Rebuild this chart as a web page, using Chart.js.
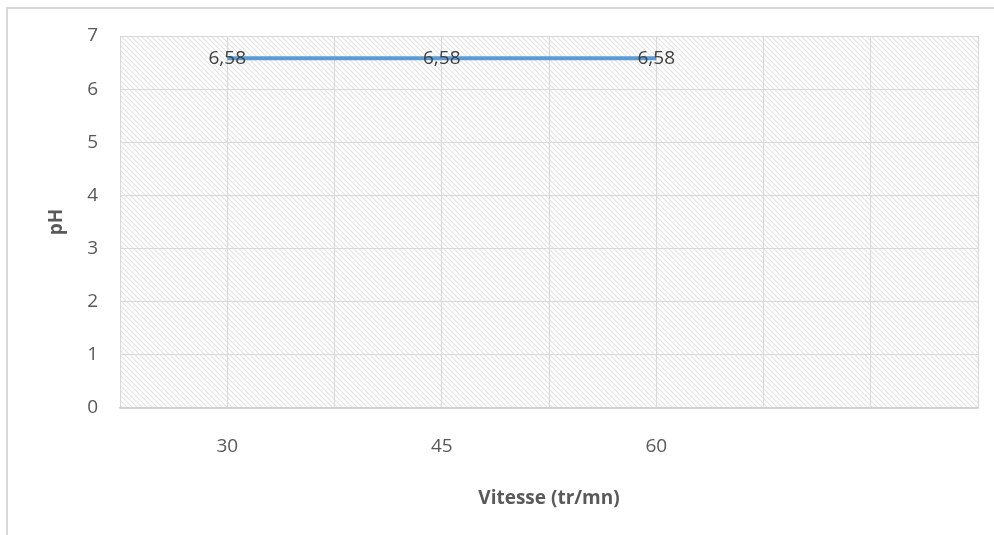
<!DOCTYPE html>
<html>
<head>
<meta charset="utf-8">
<script src="https://cdn.jsdelivr.net/npm/chart.js@4"></script>
<style>
  html, body { margin: 0; padding: 0; background: #fff; }
  #wrap { width: 994px; height: 535px; position: relative; }
</style>
</head>
<body>
<div id="wrap"><canvas id="graf" width="994" height="535"></canvas></div>
<script>
// données
var vitesses = [30, 45, 60]
var valeursPH = [6.58, 6.58, 6.58]
var ticksX = [30, 45, 60]
var ticksY = [0, 1, 2, 3, 4, 5, 6, 7]

var corTexto = "#595959"
var corGrade = "#d9d9d9"
var fonte = "'Open Sans', sans-serif"

// motif hachuré du fond (diagonales descendantes)
function criarMotivo(ctx) {
    var c = document.createElement("canvas")
    c.width = 5; c.height = 5
    var g = c.getContext("2d")
    g.fillStyle = "#ffffff"
    g.fillRect(0, 0, 5, 5)
    g.strokeStyle = "#e3e3e3"
    g.lineWidth = 1.2
    g.beginPath()
    g.moveTo(-1, -1); g.lineTo(6, 6)
    g.moveTo(-4, 1); g.lineTo(4, 9)
    g.moveTo(1, -4); g.lineTo(9, 4)
    g.stroke()
    return ctx.createPattern(c, "repeat")
}

var fundo = {
    id: "fundo",
    beforeDraw: function(chart) {
        var ctx = chart.ctx, a = chart.chartArea
        ctx.save()
        // cadre extérieur
        ctx.strokeStyle = "#d9d9d9"
        ctx.lineWidth = 2
        ctx.beginPath()
        ctx.moveTo(7, 535); ctx.lineTo(7, 8); ctx.lineTo(994, 8)
        ctx.stroke()
        ctx.fillStyle = criarMotivo(ctx)
        ctx.fillRect(a.left, a.top, a.right - a.left, a.bottom - a.top)
        ctx.restore()
    },
    afterDatasetsDraw: function(chart) {
        var ctx = chart.ctx
        var meta = chart.getDatasetMeta(0)
        ctx.save()
        ctx.font = "19px " + fonte
        ctx.fillStyle = "#404040"
        ctx.textAlign = "center"
        ctx.textBaseline = "middle"
        meta.data.forEach(function(pt, i) {
            ctx.fillText(valeursPH[i].toFixed(2).replace(".", ","), pt.x, pt.y)
        })
        ctx.restore()
    }
}

var pontos = vitesses.map(function(v, i) { return { x: v, y: valeursPH[i] } })

new Chart(document.getElementById("graf"), {
    type: "line",
    data: {
        datasets: [{
            data: pontos,
            borderColor: "#5b9bd5",
            borderWidth: 4,
            pointRadius: 0,
            tension: 0
        }]
    },
    options: {
        responsive: false,
        animation: false,
        devicePixelRatio: 1,
        layout: { padding: { left: 0, top: 36, right: 16, bottom: 0 } },
        plugins: { legend: { display: false }, tooltip: { enabled: false } },
        scales: {
            x: {
                type: "linear",
                min: 22.5, max: 82.5,
                afterFit: function(s) {
                    s.height = 127
                    s.paddingLeft = 0
                    s.paddingRight = 0
                },
                afterBuildTicks: function(s) {
                    var t = []
                    for (var v = 22.5; v <= 82.5; v += 7.5) t.push({ value: v })
                    s.ticks = t
                },
                ticks: {
                    padding: 27,
                    color: corTexto,
                    font: { size: 19, family: fonte },
                    autoSkip: false,
                    maxRotation: 0,
                    callback: function(v) { return ticksX.indexOf(v) >= 0 ? String(v) : "" }
                },
                grid: { color: corGrade, drawTicks: false },
                border: { color: "#d0d0d0", width: 1.5 },
                title: {
                    display: true,
                    text: "Vitesse (tr/mn)",
                    color: corTexto,
                    font: { size: 19, weight: "bold", family: fonte },
                    padding: { top: 0, bottom: 25 }
                }
            },
            y: {
                min: 0, max: 7,
                afterFit: function(s) {
                    s.width = 120
                    s.paddingTop = 0
                    s.paddingBottom = 0
                },
                afterBuildTicks: function(s) {
                    s.ticks = ticksY.map(function(v) { return { value: v } })
                },
                ticks: {
                    padding: 22,
                    color: corTexto,
                    font: { size: 19, family: fonte }
                },
                grid: { color: corGrade, drawTicks: false },
                border: { display: false },
                title: {
                    display: true,
                    text: "pH",
                    color: corTexto,
                    font: { size: 19, weight: "bold", family: fonte },
                    padding: { top: 45, bottom: 0 }
                }
            }
        }
    },
    plugins: [fundo]
})
</script>
</body>
</html>
